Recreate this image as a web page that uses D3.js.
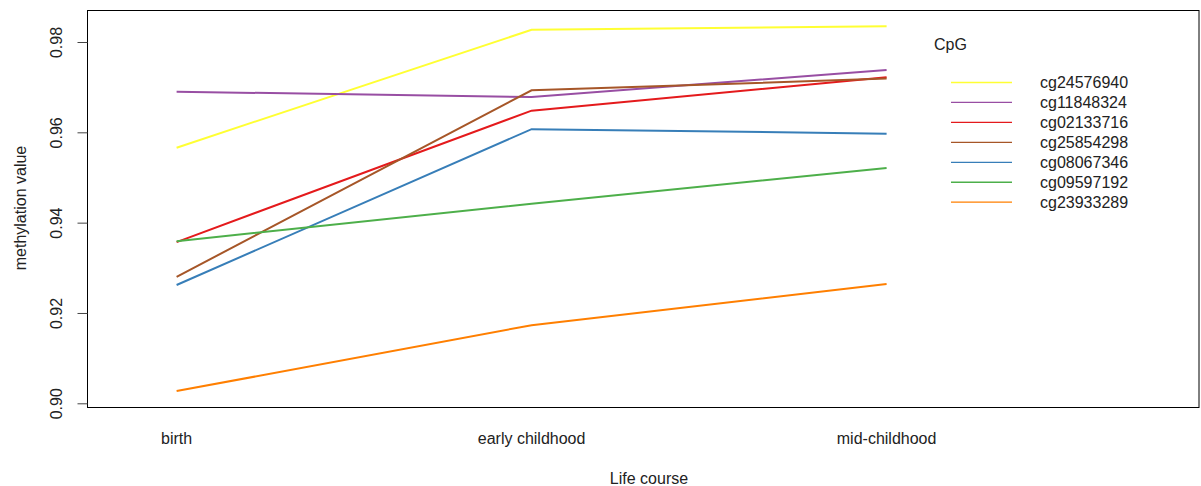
<!DOCTYPE html>
<html>
<head>
<meta charset="utf-8">
<script src="https://cdn.jsdelivr.net/npm/d3@7"></script>
<style>
  html, body { margin: 0; padding: 0; background: #fff; }
  svg { display: block; font-family: "Liberation Sans", Arial, sans-serif; }
</style>
</head>
<body>
<svg id="chart" width="1201" height="486"></svg>
<script>
// Life-course stages (x axis)
const stages = ["birth", "early childhood", "mid-childhood"];

// CpG site names, in legend order
const cpgs = ["cg24576940", "cg11848324", "cg02133716", "cg25854298", "cg08067346", "cg09597192", "cg23933289"];

// Mean methylation per site at each stage
const cg24576940 = [0.9566, 0.9827, 0.9835];
const cg11848324 = [0.9690, 0.9678, 0.9738];
const cg02133716 = [0.9357, 0.9648, 0.9722];
const cg25854298 = [0.9280, 0.9693, 0.9719];
const cg08067346 = [0.9262, 0.9607, 0.9597];
const cg09597192 = [0.9359, 0.9442, 0.9521];
const cg23933289 = [0.9027, 0.9173, 0.9264];

const seriesValues = [cg24576940, cg11848324, cg02133716, cg25854298, cg08067346, cg09597192, cg23933289];
const colors = ["#FFFF33", "#984EA3", "#E41A1C", "#A65628", "#377EB8", "#4DAF4A", "#FF7F00"];

const yTicks = [0.90, 0.92, 0.94, 0.96, 0.98];

const FONT = 16;
const svg = d3.select("#chart");
const box = { left: 87.5, right: 1199, top: 10.5, bottom: 407.5 };

// Stages sit at 1, 2, 3 on a continuous axis, with room on the right for the legend
const x = d3.scaleLinear().domain([0.749, 3.88]).range([box.left, box.right]);
const y = d3.scaleLinear().domain([0.90, 0.98]).range([403.3, 42]);

// Series lines
const line = d3.line()
  .x((d, i) => x(i + 1))
  .y(d => y(d));

svg.append("g")
  .selectAll("path")
  .data(seriesValues)
  .join("path")
  .attr("d", d => line(d))
  .attr("fill", "none")
  .attr("stroke", (d, i) => colors[i])
  .attr("stroke-width", 2);

// Plot frame
svg.append("rect")
  .attr("x", box.left).attr("y", box.top)
  .attr("width", box.right - box.left).attr("height", box.bottom - box.top)
  .attr("fill", "none").attr("stroke", "#000").attr("stroke-width", 1);

// Y axis
const yAxis = d3.axisLeft(y)
  .tickValues(yTicks)
  .tickFormat(d3.format(".2f"))
  .tickSize(10)
  .tickPadding(4);

const yg = svg.append("g")
  .attr("transform", `translate(${box.left},0)`)
  .call(yAxis);
yg.select(".domain").remove();
yg.selectAll(".tick line").attr("stroke", "#444");
yg.selectAll(".tick text")
  .attr("x", null).attr("dx", null)
  .attr("text-anchor", "middle")
  .attr("font-size", FONT)
  .attr("font-family", "Liberation Sans, Arial, sans-serif")
  .attr("fill", "#222")
  .attr("transform", "translate(-31,0) rotate(-90)")
  .attr("y", 0)
  .attr("dy", "0.35em");

// X category labels (no tick marks)
svg.append("g")
  .selectAll("text")
  .data(stages)
  .join("text")
  .attr("x", (d, i) => x(i + 1))
  .attr("y", 444)
  .attr("text-anchor", "middle")
  .attr("font-size", FONT)
  .attr("fill", "#222")
  .text(d => d);

// Axis titles
svg.append("text")
  .attr("x", 649).attr("y", 484)
  .attr("text-anchor", "middle")
  .attr("font-size", FONT).attr("fill", "#222")
  .text("Life course");

svg.append("text")
  .attr("transform", "translate(26,208) rotate(-90)")
  .attr("text-anchor", "middle")
  .attr("font-size", FONT).attr("fill", "#222")
  .text("methylation value");

// Legend
const legend = svg.append("g");
legend.append("text")
  .attr("x", 934).attr("y", 50)
  .attr("font-size", FONT).attr("fill", "#222")
  .text("CpG");

const rows = legend.selectAll("g.row")
  .data(cpgs)
  .join("g")
  .attr("class", "row")
  .attr("transform", (d, i) => `translate(0,${82.5 + i * 19.95})`);

rows.append("line")
  .attr("x1", 951).attr("x2", 1012)
  .attr("y1", 0).attr("y2", 0)
  .attr("stroke", (d, i) => colors[i])
  .attr("stroke-width", 1.3);

rows.append("text")
  .attr("x", 1040).attr("y", 0)
  .attr("dy", "0.36em")
  .attr("font-size", FONT).attr("fill", "#222")
  .text(d => d);
</script>
</body>
</html>
